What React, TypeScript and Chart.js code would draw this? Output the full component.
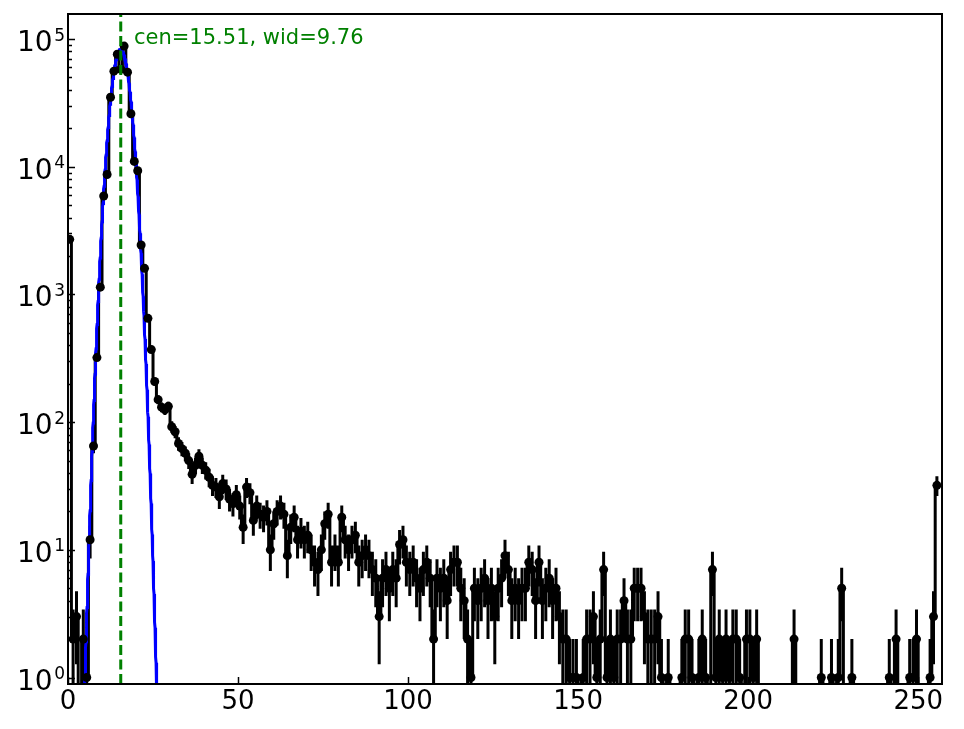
import React, { useEffect, useRef } from "react";
import { Chart, registerables } from "chart.js";

Chart.register(...registerables);

// Histogram counts per bin (bins 0..255, plotted at bin centres)
const COUNTS: number[] = [
  2700, 2, 3, 0, 2, 1, 12, 65, 320, 1140,
  5900, 8700, 35000, 56000, 76000, 58000, 88000, 55000, 26000, 11000,
  9300, 2440, 1600, 650, 370, 208, 150, 131, 125, 133,
  92, 84, 68, 62, 57, 50, 39, 46, 54, 46,
  42, 37, 32, 31, 26, 33, 30, 25, 23, 27,
  22, 15, 31, 28, 17, 22, 19, 18, 20, 10,
  16, 20, 22, 19, 9, 15, 18, 12, 14, 12,
  13, 10, 8, 7, 10, 16, 19, 8, 10, 8,
  18, 12, 10, 12, 13, 8, 9, 10, 9, 7,
  6, 3, 6, 7, 5, 7, 6, 11, 12, 8,
  7, 8, 6, 5, 7, 8, 6, 2, 6, 5,
  6, 4, 7, 8, 8, 5, 4, 2, 1, 5,
  4, 5, 6, 4, 5, 3, 5, 6, 9, 7,
  4, 5, 4, 5, 5, 8, 7, 4, 8, 4,
  5, 6, 4, 5, 3, 2, 2, 1, 1, 1,
  0, 1, 2, 2, 3, 1, 2, 7, 1, 2,
  1, 2, 2, 4, 2, 2, 5, 5, 5, 3,
  2, 2, 2, 3, 1, 0, 1, 0, 0, 0,
  1, 2, 2, 1, 0, 1, 2, 1, 0, 7,
  1, 2, 1, 2, 1, 2, 2, 1, 0, 2,
  2, 1, 2, 0, 0, 0, 0, 0, 0, 0,
  0, 0, 0, 2, 0, 0, 0, 0, 0, 0,
  0, 1, 0, 0, 1, 0, 1, 5, 0, 0,
  1, 0, 0, 0, 0, 0, 0, 0, 0, 0,
  0, 1, 0, 2, 0, 0, 0, 1, 1, 2,
  0, 0, 0, 1, 3, 32,
];

// Gaussian fit parameters: f(x) = AMP * exp(-(x - CEN)^2 / WID)
const FIT_CEN = 15.51;
const FIT_WID = 9.76;
const FIT_AMP = 83000;

const X_TICKS: number[] = [0, 50, 100, 150, 200, 250];
const Y_DECADES: number[] = [0, 1, 2, 3, 4, 5];
const X_MIN = 0;
const X_MAX = 257;
const Y_MIN = 0.89;
const Y_MAX = 1.57e5;

const ANNOTATION = `cen=${FIT_CEN.toFixed(2)}, wid=${FIT_WID.toFixed(2)}`;
const FONT = '"DejaVu Sans", "Liberation Sans", sans-serif';

const BELOW = Y_MIN * 1e-3; // zero counts drop below the axis (clipped)

const binX = (i: number) => i + 0.5;

const stepData = COUNTS.map((n, i) => ({ x: binX(i), y: n > 0 ? n : BELOW }));
const pointData = COUNTS.map((n, i) => ({ x: binX(i), y: n > 0 ? n : null }));
const errData: { x: number; y: number | null }[] = [];
COUNTS.forEach((n, i) => {
  if (n <= 0) return;
  const e = Math.sqrt(n);
  errData.push({ x: binX(i), y: Math.max(n - e, BELOW) });
  errData.push({ x: binX(i), y: n + e });
  errData.push({ x: binX(i), y: null });
});
const fitData: { x: number; y: number }[] = [];
for (let k = 0; k <= 560; k++) {
  const x = 2 + k * 0.05;
  fitData.push({ x, y: FIT_AMP * Math.exp(-((x - FIT_CEN) ** 2) / FIT_WID) });
}
const cenLine = [
  { x: FIT_CEN, y: Y_MIN },
  { x: FIT_CEN, y: Y_MAX },
];

const axesPlugin = {
  id: "mplAxes",
  afterDraw(chart: any) {
    const { ctx, chartArea: a, scales } = chart;
    const xs = scales.x;
    const ys = scales.y;
    ctx.save();
    ctx.strokeStyle = "#000";
    ctx.lineWidth = 1.5;
    ctx.beginPath();
    for (const d of Y_DECADES) {
      for (let m = 2; m <= 9; m++) {
        const v = m * Math.pow(10, d);
        if (v >= Y_MAX || v <= Y_MIN) continue;
        const y = Math.round(ys.getPixelForValue(v)) + 0.5;
        ctx.moveTo(a.left, y);
        ctx.lineTo(a.left + 4, y);
      }
      const y = Math.round(ys.getPixelForValue(Math.pow(10, d))) + 0.5;
      ctx.moveTo(a.left, y);
      ctx.lineTo(a.left + 7, y);
    }
    for (const t of X_TICKS) {
      const x = Math.round(xs.getPixelForValue(t)) + 0.5;
      ctx.moveTo(x, a.bottom);
      ctx.lineTo(x, a.bottom - 7);
    }
    ctx.stroke();

    ctx.lineWidth = 2;
    ctx.strokeRect(a.left, a.top, a.right - a.left, a.bottom - a.top);

    ctx.fillStyle = "#000";
    ctx.textBaseline = "alphabetic";
    // x labels
    ctx.font = `26px ${FONT}`;
    ctx.textAlign = "center";
    for (const t of X_TICKS) {
      ctx.fillText(String(t), xs.getPixelForValue(t), a.bottom + 25);
    }
    // y labels 10^d
    ctx.textAlign = "left";
    for (const d of Y_DECADES) {
      const y = ys.getPixelForValue(Math.pow(10, d));
      ctx.font = `17px ${FONT}`;
      const w2 = ctx.measureText(String(d)).width;
      ctx.font = `28px ${FONT}`;
      const w1 = ctx.measureText("10").width;
      const right = a.left - 3;
      ctx.fillText("10", right - w2 - 1.5 - w1, y + 12);
      ctx.font = `17px ${FONT}`;
      ctx.fillText(String(d), right - w2, y + 1.5);
    }
    // annotation
    ctx.fillStyle = "#008000";
    ctx.font = `21px ${FONT}`;
    ctx.fillText(ANNOTATION, 134, 44);
    ctx.restore();
  },
};

export default function App() {
  const ref = useRef<HTMLCanvasElement | null>(null);
  useEffect(() => {
    document.body.style.margin = "0";
    const canvas = ref.current;
    if (!canvas) return;
    const chart = new Chart(canvas, {
      type: "line",
      data: {
        datasets: [
          {
            label: "centre",
            data: cenLine,
            borderColor: "#008000",
            borderWidth: 3,
            borderDash: [10, 4.5],
            pointRadius: 0,
            order: 0,
            clip: 0,
          } as any,
          {
            label: "points",
            data: pointData,
            showLine: false,
            pointRadius: 4.5,
            pointBorderWidth: 0,
            pointBackgroundColor: "#000",
            borderColor: "#000",
            order: 1,
            clip: 0,
          } as any,
          {
            label: "fit",
            data: fitData,
            borderColor: "#0000ff",
            borderWidth: 3,
            pointRadius: 0,
            tension: 0,
            order: 2,
            clip: 0,
          } as any,
          {
            label: "errors",
            data: errData,
            borderColor: "#000",
            borderWidth: 3,
            pointRadius: 0,
            spanGaps: false,
            order: 3,
            clip: 0,
          } as any,
          {
            label: "counts",
            data: stepData,
            stepped: "middle",
            borderColor: "#000",
            borderWidth: 3,
            pointRadius: 0,
            order: 4,
            clip: 0,
          } as any,
        ],
      },
      options: {
        animation: false,
        responsive: false,
        events: [],
        layout: { padding: { left: 68, top: 14, right: 22, bottom: 45 } },
        plugins: { legend: { display: false }, tooltip: { enabled: false } },
        scales: {
          x: { type: "linear", min: X_MIN, max: X_MAX, display: false },
          y: { type: "logarithmic", min: Y_MIN, max: Y_MAX, display: false },
        },
      },
      plugins: [axesPlugin],
    });
    return () => chart.destroy();
  }, []);
  return (
    <div style={{ width: 964, height: 729, background: "#fff" }}>
      <canvas ref={ref} width={964} height={729} />
    </div>
  );
}
